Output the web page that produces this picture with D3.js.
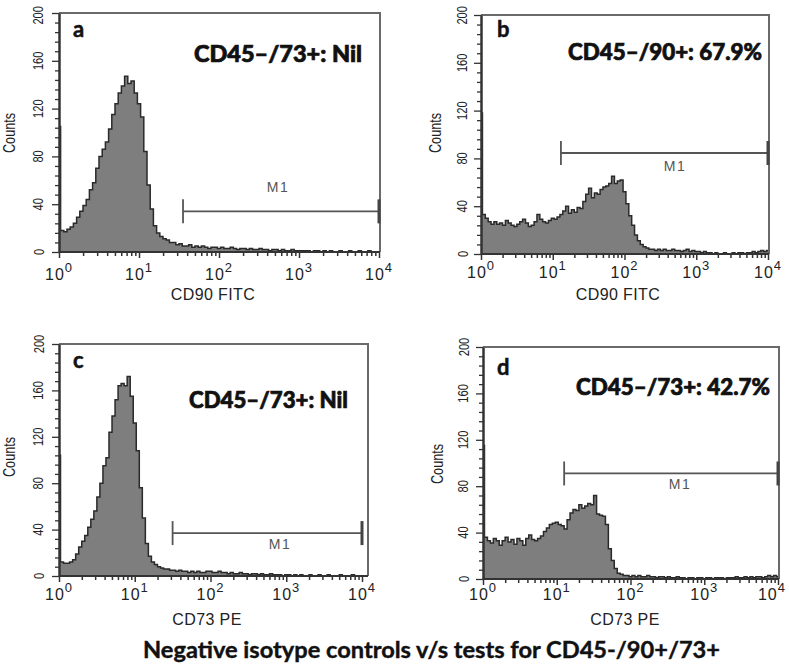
<!DOCTYPE html>
<html><head><meta charset="utf-8">
<script src="https://cdn.jsdelivr.net/npm/d3@7"></script>
<style>body{margin:0;background:#fff}svg{display:block}</style>
</head><body><svg id="chart" width="789" height="667"></svg>
<script>
// ---- data ----
const LOG_STEP = 0.04; // channels sampled every 0.04 decade, from 10^0 to 10^4
const countsA = [105,18,17,19,21,24,29,34,39,44,52,
  58,70,80,86,92,103,115,124,133,139,
  147,141,143,133,124,113,84,56,36,22,
  16,13,11,10,8,8,6,7,5,5,
  6,4,5,4,5,4,3,4,4,3,
  4,3,3,4,3,2,3,3,2,3,
  2,2,3,2,2,1,2,2,1,2,
  1,1,2,1,1,1,1,1,0,1,
  1,0,1,0,1,0,0,1,0,0,
  1,0,0,1,0,0,1,0,0,0];
const countsB = [118,33,30,27,25,27,25,26,24,28,26,
  24,23,25,27,29,26,23,24,27,33,
  29,27,26,28,30,29,31,33,36,40,
  34,37,35,39,38,44,50,55,47,51,
  50,54,56,57,59,65,59,61,62,52,
  42,32,24,16,11,8,6,5,4,4,
  3,4,3,4,3,3,4,3,3,2,
  3,4,2,3,2,2,1,2,1,1,
  0,1,0,0,1,0,0,1,0,1,
  1,0,1,1,2,1,2,3,2,3];
const countsC = [104,12,11,11,12,14,19,25,30,35,42,
  49,56,68,80,95,102,124,138,152,164,
  166,164,172,155,132,108,76,50,28,17,
  12,10,8,7,6,6,5,5,4,5,
  4,4,3,4,3,4,3,3,4,4,
  3,3,4,3,3,2,3,2,2,3,
  2,2,1,2,2,1,2,1,1,2,
  1,1,1,0,1,1,0,1,0,1,
  0,0,1,0,0,1,0,0,1,0,
  0,0,1,0,0,0,1,0,0,0];
const countsD = [115,36,33,31,35,33,29,33,36,32,34,
  30,35,33,29,35,38,34,33,35,37,
  41,44,47,48,49,47,46,43,51,57,
  60,59,64,61,63,65,64,72,56,55,
  54,47,26,16,9,5,4,3,3,2,
  3,2,3,2,2,3,2,2,1,2,
  2,1,2,1,1,2,1,1,0,1,
  1,0,1,1,0,1,1,0,1,1,
  1,0,1,1,1,2,1,1,2,1,
  2,1,2,2,1,2,3,2,3,2];

const panelLetters = ["a", "b", "c", "d"];
const annotations = ["CD45\u2013/73+: Nil", "CD45\u2013/90+: 67.9%", "CD45\u2013/73+: Nil", "CD45\u2013/73+: 42.7%"];
const xTitles = ["CD90 FITC", "CD90 FITC", "CD73 PE", "CD73 PE"];
const markerLabel = "M1";
const markerStart = [35.5, 13.0, 31.6, 12.6];
const markerEnd = [10000, 10000, 10000, 10000];
const markerLevel = [34, 84.5, 37, 91];
const yTickValues = [0, 40, 80, 120, 160, 200];
const yMinorStep = 8;
const xDecades = [0, 1, 2, 3, 4];
const yTitle = "Counts";
const chartTitle = "Negative isotype controls v/s tests for CD45-/90+/73+";
const allCounts = [countsA, countsB, countsC, countsD];

// ---- layout (pixels) ----
const layouts = [
  {x0:59, x1:379, frameR:380, yTop:13, yBase:252, yLabX:38, countsX:9, countsY:133, tickLabBase:280, xTitleX:213, xTitleY:300, letterX:73, letterY:37, annX:194, annY:62, annW:168, m1X:278, m1Y:187},
  {x0:481, x1:768, frameR:769, yTop:15, yBase:254, yLabX:462, countsX:435, countsY:133, tickLabBase:278, xTitleX:618, xTitleY:300, letterX:497, letterY:37, annX:568, annY:60, annW:194, m1X:675, m1Y:166},
  {x0:59, x1:362, frameR:368, yTop:344, yBase:576, yLabX:38, countsX:9, countsY:457, tickLabBase:600, xTitleX:207, xTitleY:625, letterX:73, letterY:368, annX:189, annY:408, annW:159, m1X:280, m1Y:544},
  {x0:483, x1:778, frameR:779, yTop:347, yBase:579, yLabX:463, countsX:437, countsY:464, tickLabBase:600, xTitleX:625, xTitleY:625, letterX:497, letterY:375, annX:576, annY:395, annW:194, m1X:680, m1Y:484}
];

const svg = d3.select("#chart");
const sans = "'Liberation Sans',Arial,sans-serif";
const boldFont = "Lato,'Open Sans',sans-serif";

layouts.forEach((L, p) => {
  const g = svg.append("g");
  const x = d3.scaleLog().domain([1, 10000]).range([L.x0, L.x1]);
  const y = d3.scaleLinear().domain([0, 200]).range([L.yBase, L.yTop]);
  const counts = allCounts[p];

  // histogram points: bin i centred on 10^(i*step)
  const pts = counts.map((c, i) => ({lg: i === 0 ? 0 : (i - 0.5) * LOG_STEP, c}));
  pts.push({lg: 4, c: counts[counts.length - 1]});
  const area = d3.area().curve(d3.curveStepAfter)
    .x(d => x(Math.pow(10, d.lg))).y0(L.yBase).y1(d => y(d.c));
  const line = d3.line().curve(d3.curveStepAfter)
    .x(d => x(Math.pow(10, d.lg))).y(d => y(d.c));
  g.append("path").datum(pts).attr("d", area).attr("fill", "#7e7e7e");
  g.append("path").datum(pts).attr("d", line).attr("fill", "none")
    .attr("stroke", "#2a2a2a").attr("stroke-width", 1.5);

  // frame (top & right)
  g.append("path").attr("d", `M${L.x0},${L.yTop}H${L.frameR}V${L.yBase}`)
    .attr("fill", "none").attr("stroke", "#6a6a6a").attr("stroke-width", 2);

  // x axis with log ticks
  const xTicks = [];
  for (let k = 0; k < 4; k++) for (let m = 1; m < 10; m++) xTicks.push(m * Math.pow(10, k));
  xTicks.push(10000);
  const xa = g.append("g").attr("transform", `translate(0,${L.yBase})`)
    .call(d3.axisBottom(x).tickValues(xTicks).tickFormat("").tickSizeOuter(0).tickSizeInner(4));
  xa.select(".domain").attr("stroke", "#333").attr("stroke-width", 2)
    .attr("d", `M${L.x0},0H${L.frameR}`);
  xa.selectAll(".tick line").attr("stroke", "#333").attr("stroke-width", 1.5)
    .attr("y2", d => (Math.abs(Math.log10(d) - Math.round(Math.log10(d))) < 1e-9 ? 6 : 4));

  // y axis
  const ya = g.append("g").attr("transform", `translate(${L.x0},0)`)
    .call(d3.axisLeft(y).tickValues(d3.range(0, 201, yMinorStep)).tickFormat("").tickSizeOuter(0).tickSizeInner(4));
  ya.select(".domain").attr("stroke", "#333").attr("stroke-width", 2.5);
  ya.selectAll(".tick line").attr("stroke", "#333").attr("stroke-width", 1.3)
    .attr("x2", d => (d % 40 === 0 ? -7 : -4));

  // y tick labels (rotated, narrow)
  yTickValues.forEach(v => {
    const s = String(v);
    const len = s.length * 6.2;
    const ty = Math.max(y(v), len / 2 + 6);
    g.append("text").attr("x", L.yLabX).attr("y", ty)
      .attr("transform", `rotate(-90,${L.yLabX},${ty})`)
      .attr("text-anchor", "middle").attr("dominant-baseline", "central")
      .attr("font-family", sans).attr("font-size", 15).attr("fill", "#222")
      .attr("textLength", len).attr("lengthAdjust", "spacingAndGlyphs")
      .text(s);
  });

  // x tick labels 10^k
  xDecades.forEach(k => {
    const t = g.append("text").attr("x", x(Math.pow(10, k))).attr("y", L.tickLabBase)
      .attr("text-anchor", "middle").attr("font-family", sans).attr("fill", "#222")
      .attr("letter-spacing", 1);
    t.append("tspan").attr("font-size", 16).text("10");
    t.append("tspan").attr("font-size", 13).attr("dy", -8).text(k);
    const bb = t.node().getBBox();
    if (bb.x + bb.width > 786) t.attr("x", x(Math.pow(10, k)) - (bb.x + bb.width - 786));
  });

  // axis titles
  g.append("text").attr("x", L.xTitleX).attr("y", L.xTitleY).attr("text-anchor", "middle")
    .attr("font-family", sans).attr("font-size", 16).attr("fill", "#222").attr("letter-spacing", 0.4)
    .text(xTitles[p]);
  g.append("text").attr("x", L.countsX).attr("y", L.countsY)
    .attr("transform", `rotate(-90,${L.countsX},${L.countsY})`)
    .attr("text-anchor", "middle").attr("dominant-baseline", "central")
    .attr("font-family", sans).attr("font-size", 16).attr("fill", "#222")
    .attr("textLength", 40).attr("lengthAdjust", "spacingAndGlyphs").text(yTitle);

  // M1 marker
  const mY = y(markerLevel[p]);
  const mx0 = x(markerStart[p]), mx1 = x(markerEnd[p]);
  g.append("line").attr("x1", mx0).attr("x2", mx1).attr("y1", mY).attr("y2", mY)
    .attr("stroke", "#555").attr("stroke-width", 1.8);
  g.append("line").attr("x1", mx0).attr("x2", mx0).attr("y1", mY - 12).attr("y2", mY + 12)
    .attr("stroke", "#555").attr("stroke-width", 1.8);
  g.append("line").attr("x1", mx1).attr("x2", mx1).attr("y1", mY - 12).attr("y2", mY + 12)
    .attr("stroke", "#444").attr("stroke-width", 3);
  g.append("text").attr("x", L.m1X).attr("y", L.m1Y).attr("text-anchor", "middle")
    .attr("dominant-baseline", "central").attr("font-family", sans).attr("font-size", 14)
    .attr("letter-spacing", 1.5).attr("fill", "#555").text(markerLabel);

  // panel letter and annotation
  g.append("text").attr("x", L.letterX).attr("y", L.letterY)
    .attr("font-family", boldFont).attr("font-weight", 700).attr("font-size", 22).attr("fill", "#111")
    .attr("stroke", "#111").attr("stroke-width", 0.5)
    .text(panelLetters[p]);
  g.append("text").attr("x", L.annX).attr("y", L.annY)
    .attr("font-family", boldFont).attr("font-weight", 900).attr("font-size", 22).attr("fill", "#111")
    .attr("stroke", "#111").attr("stroke-width", 0.7)
    .attr("textLength", L.annW).attr("lengthAdjust", "spacingAndGlyphs")
    .text(annotations[p]);
});

svg.append("text").attr("x", 143).attr("y", 658)
  .attr("font-family", boldFont).attr("font-weight", 700).attr("font-size", 22).attr("fill", "#111")
  .attr("stroke", "#111").attr("stroke-width", 0.4)
  .attr("textLength", 577).attr("lengthAdjust", "spacingAndGlyphs")
  .text(chartTitle);
</script>
</body></html>
